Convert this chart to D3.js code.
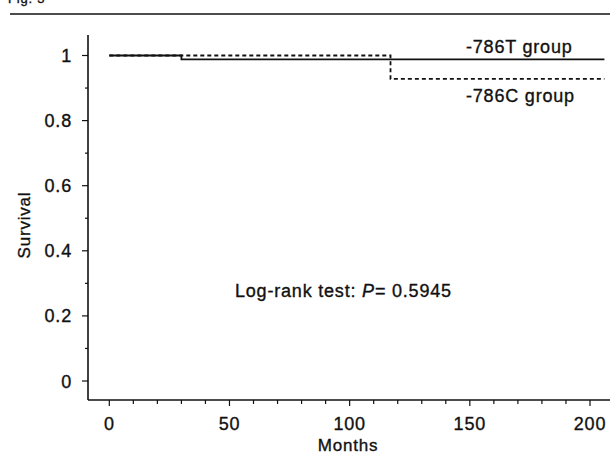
<!DOCTYPE html>
<meta charset="utf-8">
<style>
  body { margin: 0; background: #fff; }
  text { font-family: "Liberation Sans", Arial, sans-serif; fill: #111; stroke: #111; stroke-width: 0.35; letter-spacing: 0.8px; }
</style>
<body>
<script src="https://cdn.jsdelivr.net/npm/d3@7"></script>
<script>
// Kaplan-Meier steps
var monthsT = [0, 30, 30, 206];
var survT   = [1, 1, 0.988, 0.988];
var monthsC = [0, 117, 117, 206];
var survC   = [1, 1, 0.928, 0.928];
var xTicks = [0, 50, 100, 150, 200];
var yTicks = [0, 0.2, 0.4, 0.6, 0.8, 1];
var pText = "0.5945";

var width = 610, height = 454;

var x = d3.scaleLinear().domain([0, 200]).range([109.3, 590]);
var y = d3.scaleLinear().domain([0, 1]).range([381, 55.5]);

var svg = d3.select("body").append("svg")
  .attr("width", width)
  .attr("height", height);

// rule at top of the page
svg.append("line")
  .attr("x1", 10).attr("x2", 610)
  .attr("y1", 14).attr("y2", 14)
  .attr("stroke", "#111").attr("stroke-width", 1.5);
svg.append("text")
  .attr("x", 8).attr("y", 3)
  .style("font-size", "13px")
  .text("Fig. 3");

// axes
var xAxis = svg.append("g")
  .attr("transform", "translate(0,400)");
xAxis.append("line")
  .attr("x1", 88).attr("x2", 610)
  .attr("stroke", "#111").attr("stroke-width", 1.6);
xAxis.selectAll(".minor")
  .data(d3.range(0, 211, 10))
  .enter().append("line")
  .attr("x1", d => x(d)).attr("x2", d => x(d))
  .attr("y1", 0).attr("y2", d => d % 50 === 0 ? 6 : 4)
  .attr("stroke", "#111").attr("stroke-width", 1.2);
xAxis.selectAll("text")
  .data(xTicks)
  .enter().append("text")
  .attr("x", d => x(d))
  .attr("y", 30)
  .attr("text-anchor", "middle")
  .style("font-size", "18px")
  .text(d => d);

var yAxis = svg.append("g");
yAxis.append("line")
  .attr("x1", 88).attr("x2", 88)
  .attr("y1", 35).attr("y2", 400)
  .attr("stroke", "#111").attr("stroke-width", 1.6);
yAxis.selectAll(".minor")
  .data(d3.range(0, 1.01, 0.1))
  .enter().append("line")
  .attr("x1", d => Math.round(d * 10) % 2 === 0 ? 82 : 85).attr("x2", 88)
  .attr("y1", d => y(d)).attr("y2", d => y(d))
  .attr("stroke", "#111").attr("stroke-width", 1.2);
yAxis.selectAll("text")
  .data(yTicks)
  .enter().append("text")
  .attr("x", 72)
  .attr("y", d => y(d) + 6.5)
  .attr("text-anchor", "end")
  .style("font-size", "18px")
  .text(d => d3.format("")(d));

svg.append("text")
  .attr("transform", "translate(30,225) rotate(-90)")
  .attr("text-anchor", "middle")
  .style("font-size", "17px")
  .text("Survival");

svg.append("text")
  .attr("x", 348).attr("y", 451)
  .attr("text-anchor", "middle")
  .style("font-size", "17px")
  .text("Months");

// survival curves
var line = d3.line()
  .x(d => x(d[0]))
  .y(d => y(d[1]));

svg.append("path")
  .datum(d3.zip(monthsC, survC))
  .attr("d", line)
  .attr("fill", "none")
  .attr("stroke", "#111")
  .attr("stroke-width", 1.8)
  .attr("stroke-dasharray", "4,3");

svg.append("path")
  .datum(d3.zip(monthsT, survT))
  .attr("d", line)
  .attr("fill", "none")
  .attr("stroke", "#111")
  .attr("stroke-width", 1.8);

svg.append("text")
  .attr("x", 466).attr("y", 53)
  .style("font-size", "18px")
  .text("-786T group");

svg.append("text")
  .attr("x", 466).attr("y", 102)
  .style("font-size", "18px")
  .text("-786C group");

var lr = svg.append("text")
  .attr("x", 235).attr("y", 297)
  .style("font-size", "18px");
lr.append("tspan").text("Log-rank test: ");
lr.append("tspan").style("font-style", "italic").text("P");
lr.append("tspan").text("= " + pText);
</script>
</body>
</html>
